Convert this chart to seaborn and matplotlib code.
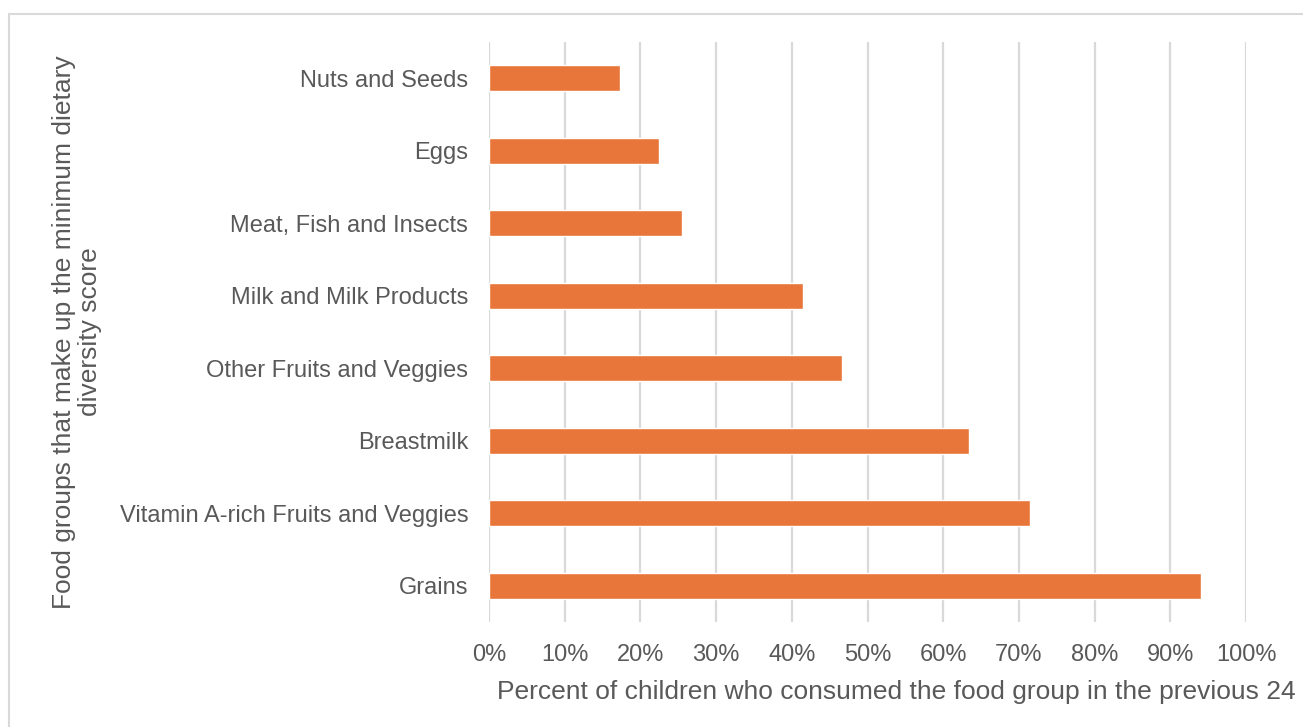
import matplotlib
matplotlib.use("Agg")
import matplotlib.pyplot as plt
from matplotlib.lines import Line2D
from matplotlib.ticker import PercentFormatter
import seaborn as sns
import pandas as pd

# Data (top to bottom)
food_groups = [
    "Nuts and Seeds",
    "Eggs",
    "Meat, Fish and Insects",
    "Milk and Milk Products",
    "Other Fruits and Veggies",
    "Breastmilk",
    "Vitamin A-rich Fruits and Veggies",
    "Grains",
]
percent_consumed = [17.3, 22.5, 25.5, 41.5, 46.6, 63.4, 71.5, 94.0]
x_ticks = [0, 10, 20, 30, 40, 50, 60, 70, 80, 90, 100]

df = pd.DataFrame({"group": food_groups, "pct": percent_consumed})

sns.set_theme(style="white")
plt.rcParams["font.family"] = ["Liberation Sans", "DejaVu Sans"]

text_color = "#595959"
grid_color = "#D9D9D9"
bar_color = "#E8763A"

fig = plt.figure(figsize=(13.03, 7.27), dpi=100)
ax = fig.add_axes([489 / 1303, 1 - 622 / 727, 757 / 1303, 580 / 727])

sns.barplot(data=df, y="group", x="pct", order=food_groups, color=bar_color,
            width=0.36, saturation=1, ax=ax, zorder=3)

ax.set_xlim(0, 100)
ax.set_xticks(x_ticks)
ax.xaxis.set_major_formatter(PercentFormatter(decimals=0))
ax.grid(axis="x", color=grid_color, linewidth=1.6, zorder=0)
ax.set_axisbelow(True)
for s in ax.spines.values():
    s.set_visible(False)
ax.tick_params(axis="both", length=0, labelsize=17, labelcolor=text_color)
ax.tick_params(axis="y", pad=15)
ax.tick_params(axis="x", pad=16)

ax.set_xlabel("")
ax.set_ylabel("Food groups that make up the minimum dietary\ndiversity score",
              fontsize=19, color=text_color, linespacing=1.1, multialignment="center")
ax.yaxis.set_label_coords((77 - 489) / 757, 0.5)
ax.yaxis.label.set_va("center")

fig.text(497 / 1303, 1 - 692 / 727, "Percent of children who consumed the food group in the previous 24",
         fontsize=19, color=text_color, ha="left", va="center")

# outer chart border (top and left edges visible in reference)
fig.add_artist(Line2D([8.5 / 1303, 1], [1 - 13.5 / 727, 1 - 13.5 / 727],
                      transform=fig.transFigure, color=grid_color, linewidth=1.5))
fig.add_artist(Line2D([8.5 / 1303, 8.5 / 1303], [0, 1 - 13.5 / 727],
                      transform=fig.transFigure, color=grid_color, linewidth=1.5))

fig.savefig("out.png", dpi=100)
